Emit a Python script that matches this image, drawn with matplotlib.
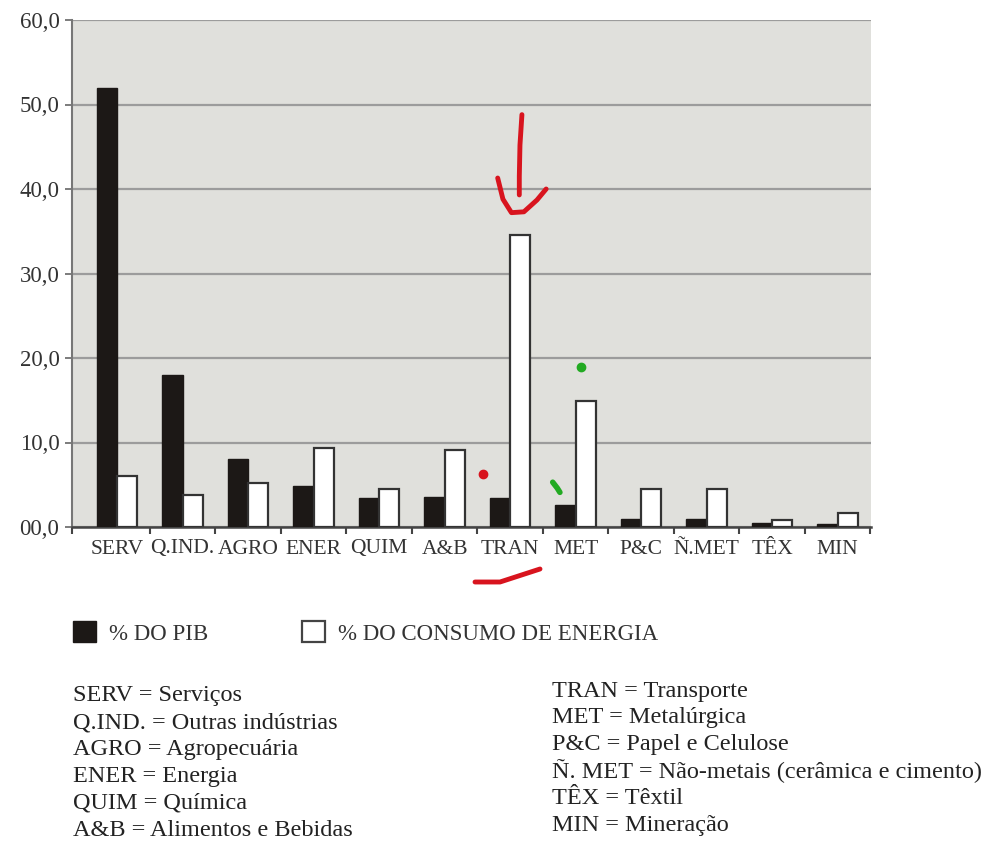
import matplotlib
matplotlib.use("Agg")
import matplotlib.pyplot as plt
from matplotlib.patches import Patch
import numpy as np

plt.rcParams['font.family'] = ['Liberation Serif', 'DejaVu Serif']

# dados
setores = ['SERV', 'Q.IND.', 'AGRO', 'ENER', 'QUIM', 'A&B', 'TRAN',
           'MET', 'P&C', 'Ñ.MET', 'TÊX', 'MIN']
pib = [52.0, 18.0, 8.0, 4.8, 3.4, 3.5, 3.4, 2.6, 0.9, 1.0, 0.5, 0.3]
energia = [6.0, 3.8, 5.2, 9.3, 4.5, 9.1, 34.5, 14.9, 4.5, 4.5, 0.8, 1.7]
yticks = [0, 10, 20, 30, 40, 50, 60]
ylabels = ['00,0', '10,0', '20,0', '30,0', '40,0', '50,0', '60,0']

legenda = ['% DO PIB', '% DO CONSUMO DE ENERGIA']
siglas_esq = ['SERV = Serviços', 'Q.IND. = Outras indústrias', 'AGRO = Agropecuária',
              'ENER = Energia', 'QUIM = Química', 'A&B = Alimentos e Bebidas']
siglas_dir = ['TRAN = Transporte', 'MET = Metalúrgica', 'P&C = Papel e Celulose',
              'Ñ. MET = Não-metais (cerâmica e cimento)', 'TÊX = Têxtil',
              'MIN = Mineração']

W, H = 987, 841
fig = plt.figure(figsize=(W / 100, H / 100), dpi=100)
ax = fig.add_axes([72 / W, 1 - 527 / H, 799 / W, 507 / H])
ax.set_facecolor('#e0e0dc')

x = np.arange(len(setores))
w = 0.31
ax.bar(x - w, pib, w, align='edge', color='#1c1816', edgecolor='#1c1816', zorder=3)
ax.bar(x, energia, w, align='edge', color='white', edgecolor='#333333',
       linewidth=1.6, zorder=3)

ax.set_xlim(-0.69, 11.51)
ax.set_ylim(0, 60)
ax.set_yticks(yticks)
ax.set_yticklabels(ylabels, fontsize=16.5, color='#333333')
ax.yaxis.grid(True, color='#9c9c9c', linewidth=1.6, zorder=1)
ax.set_xticks(x)
ax.set_xticklabels(setores, fontsize=15.5, color='#333333')
ax.tick_params(axis='x', length=0, pad=9)
ax.set_xticks(np.append(x + 0.5, -0.69), minor=True)
ax.tick_params(axis='x', which='minor', length=5, color='#444444', width=1.5)
ax.tick_params(axis='y', length=5, color='#666666', width=1.2, pad=4)
for s in ['top', 'right']:
    ax.spines[s].set_visible(False)
ax.spines['left'].set_color('#777777')
ax.spines['left'].set_linewidth(1.5)
ax.spines['bottom'].set_color('#444444')
ax.spines['bottom'].set_linewidth(1.8)

# legenda
handles = [Patch(facecolor='#1c1816', edgecolor='#1c1816'),
           Patch(facecolor='white', edgecolor='#444444', linewidth=1.6)]
fig.legend(handles, legenda, loc='upper left', bbox_to_anchor=(62 / W, 1 - 610 / H),
           ncol=2, frameon=False, fontsize=16.5, handlelength=1.0, borderpad=0,
           handleheight=1.0, handletextpad=0.55, columnspacing=4.1,
           labelcolor='#333333')

# siglas
for i, t in enumerate(siglas_esq):
    fig.text(73 / W, 1 - (696 + i * 26.8) / H, t, fontsize=17.5, color='#222222', va='center')
for i, t in enumerate(siglas_dir):
    fig.text(552 / W, 1 - (691 + i * 26.8) / H, t, fontsize=17.5, color='#222222', va='center')

# marcas feitas à mão (vermelho / verde)
red = '#d8141e'
ax.plot([6.18, 6.15, 6.14, 6.14], [48.8, 45.2, 41.5, 39.3], color=red, lw=3.5,
        solid_capstyle='round', zorder=5)
ax.plot([5.81, 5.89, 6.02, 6.21, 6.41, 6.55], [41.3, 38.8, 37.2, 37.3, 38.7, 40.0],
        color=red, lw=3.5, solid_capstyle='round', zorder=5)
ax.plot([5.59], [6.3], 'o', color=red, ms=6, zorder=5)
ax.plot([7.08], [18.9], 'o', color='#22aa22', ms=6, zorder=5)
ax.plot([6.65, 6.72, 6.76], [5.3, 4.6, 4.1], color='#22aa22', lw=4,
        solid_capstyle='round', zorder=5)
fig.add_artist(plt.Line2D([475 / W, 500 / W, 540 / W],
                          [1 - 582 / H, 1 - 582 / H, 1 - 569 / H],
                          color=red, lw=3.5, solid_capstyle='round'))

fig.savefig('out.png', dpi=100)
